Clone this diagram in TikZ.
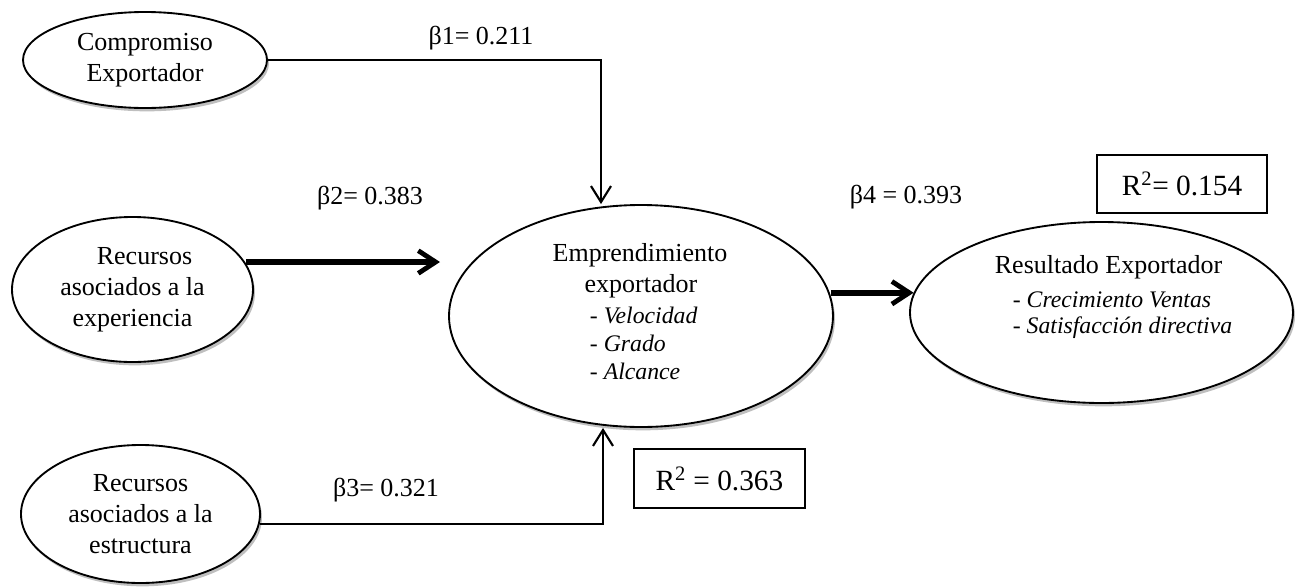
\documentclass[tikz,border=0pt]{standalone}
\usepackage{fontspec}
\setmainfont{Liberation Serif}
\usetikzlibrary{arrows.meta,shapes.geometric,shadows}
\newcommand\mainf{\fontsize{19.5}{23.25}\selectfont}
\newcommand\itf{\fontsize{17.8}{21}\selectfont}
\begin{document}
\begin{tikzpicture}[x=0.75pt,y=-0.75pt,
  every node/.style={font=\mainf},
  oval/.style={ellipse, draw, line width=1.4pt, fill=white, inner sep=0pt, align=center,
    drop shadow={opacity=0.25, shadow xshift=1.5pt, shadow yshift=-2.5pt, fill=black}},
  plain/.style={inner sep=0pt},
  rbox/.style={draw, line width=0.9pt, inner sep=0pt, font=\fontsize{22}{26}\selectfont},
  thinarrow/.style={line width=1.8pt, -{Straight Barb[length=12pt, width=15pt, line width=1.6pt]}},
  thickarrow/.style={line width=4.5pt, -{Straight Barb[length=13pt, width=17pt, line width=3.6pt]}},
]
\useasboundingbox (0,0) rectangle (1300,586);

% latent variables
\node[oval, minimum width=183pt, minimum height=72pt] (comp) at (145,60) {Compromiso\\Exportador};
\node[oval, minimum width=180.75pt, minimum height=108.75pt] (expe) at (132.5,289.5) {\hspace*{18pt}Recursos\\asociados a la\\experiencia};
\node[oval, minimum width=179.25pt, minimum height=103.5pt] (estr) at (140.5,514) {Recursos\\asociados a la\\estructura};
\node[oval, minimum width=288pt, minimum height=166.5pt] (emp) at (641,316) {};
\node[oval, minimum width=287.25pt, minimum height=135.75pt] (res) at (1101.5,312.5) {};

% texts of the two central constructs
\node[plain] (emptxt) at (640,314) {\begin{tabular}{@{}l@{}}
Emprendimiento\\
\hspace*{24pt}exportador\\
\hspace*{28pt}{\itf - \textit{Velocidad}}\\[-2.25pt]
\hspace*{28pt}{\itf - \textit{Grado}}\\[-2.25pt]
\hspace*{28pt}{\itf - \textit{Alcance}}
\end{tabular}};
\node[plain] (restxt) at (1113.5,297) {\begin{tabular}{@{}l@{}}
Resultado Exportador\\[2.25pt]
\hspace*{13.5pt}{\itf - \textit{Crecimiento Ventas}}\\[-3.75pt]
\hspace*{13.5pt}{\itf - \textit{Satisfacción directiva}}
\end{tabular}};

% coefficients
\node[plain] (b1) at (481,38) {β1= 0.211};
\node[plain] (b2) at (370,198) {β2= 0.383};
\node[plain] (b3) at (386,490) {β3= 0.321};
\node[plain] (b4) at (906,197) {β4 = 0.393};

% R squared boxes
\node[rbox, minimum width=128.25pt, minimum height=44.25pt] (r1) at (719.5,478.5) {R\textsuperscript{2} = 0.363};
\node[rbox, minimum width=127.5pt, minimum height=43.5pt] (r2) at (1182,184) {R\textsuperscript{2}= 0.154};

% connectors
\coordinate (k1) at (601,60);
\coordinate (k3) at (603,524);
\coordinate (t2) at (440,262);
\coordinate (t4) at (res.174.7);
\draw[thinarrow] (comp.east) -- (k1) -- (k1 |- emp.north);
\draw[thickarrow] (expe.13.6 |- t2) -- (t2);
\draw[thinarrow] (estr.-4.8 |- k3) -- (k3) -- (k3 |- emp.south);
\draw[thickarrow] (emp.6.4 |- t4) -- (t4);
\end{tikzpicture}
\end{document}
